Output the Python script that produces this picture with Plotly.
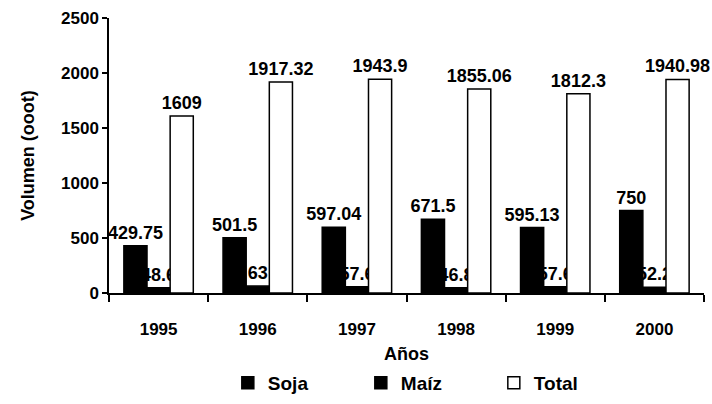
import plotly.graph_objects as go

years = ["1995", "1996", "1997", "1998", "1999", "2000"]
soja = [429.75, 501.5, 597.04, 671.5, 595.13, 750]
maiz = [48.6, 63, 57.6, 46.8, 57.6, 52.2]
total = [1609, 1917.32, 1943.9, 1855.06, 1812.3, 1940.98]
y_ticks = [0, 500, 1000, 1500, 2000, 2500]

FONT = "Liberation Sans, Arial, sans-serif"

def fmt(v):
    return f"{v:.2f}".rstrip("0").rstrip(".")

fig = go.Figure()
for name, vals, fill in [("Soja", soja, "black"), ("Maíz", maiz, "black"), ("Total", total, "white")]:
    fig.add_trace(go.Bar(
        x=years, y=vals, name=f"<b>{name}</b>",
        marker=dict(color=fill, line=dict(color="black", width=1.5)),
        text=[fmt(v) for v in vals], texttemplate="<b>%{text}</b>",
        textposition="outside",
        textfont=dict(family=FONT, size=18, color="black"),
        constraintext="none", cliponaxis=False,
    ))

fig.update_layout(
    width=712, height=404,
    margin=dict(l=109, r=8, t=18, b=111),
    paper_bgcolor="white", plot_bgcolor="white",
    barmode="group", bargap=0.3, bargroupgap=0,
    font=dict(family=FONT, size=17, color="black"),
    showlegend=True,
    legend=dict(orientation="h", x=0.535, xanchor="center",
                yref="container", y=0.052, yanchor="middle",
                font=dict(family=FONT, size=19, color="black"),
                entrywidth=88, entrywidthmode="pixels", itemwidth=30),
)
fig.update_xaxes(
    automargin=False,
    title=dict(text="<b>Años</b>", font=dict(size=18), standoff=10),
    showline=True, linecolor="black", linewidth=1.5,
    ticks="outside", tickson="boundaries", ticklen=7, tickcolor="black", tickwidth=1.5,
    tickfont=dict(size=17), showgrid=False, ticklabelstandoff=20,
    tickvals=years, ticktext=[f"<b>{y}</b>" for y in years],
)
fig.update_yaxes(
    automargin=False,
    title=dict(text="<b>Volumen (ooot)</b>", font=dict(size=18), standoff=22),
    range=[0, 2500],
    showline=True, linecolor="black", linewidth=1.5,
    ticks="outside", ticklen=5, tickcolor="black", tickwidth=1.5,
    tickfont=dict(size=17), showgrid=False, zeroline=False,
    tickvals=y_ticks, ticktext=[f"<b>{t}</b>" for t in y_ticks],
)

fig.write_html("out.html", config={"displayModeBar": False},
               post_script="document.body.style.margin='0';")
